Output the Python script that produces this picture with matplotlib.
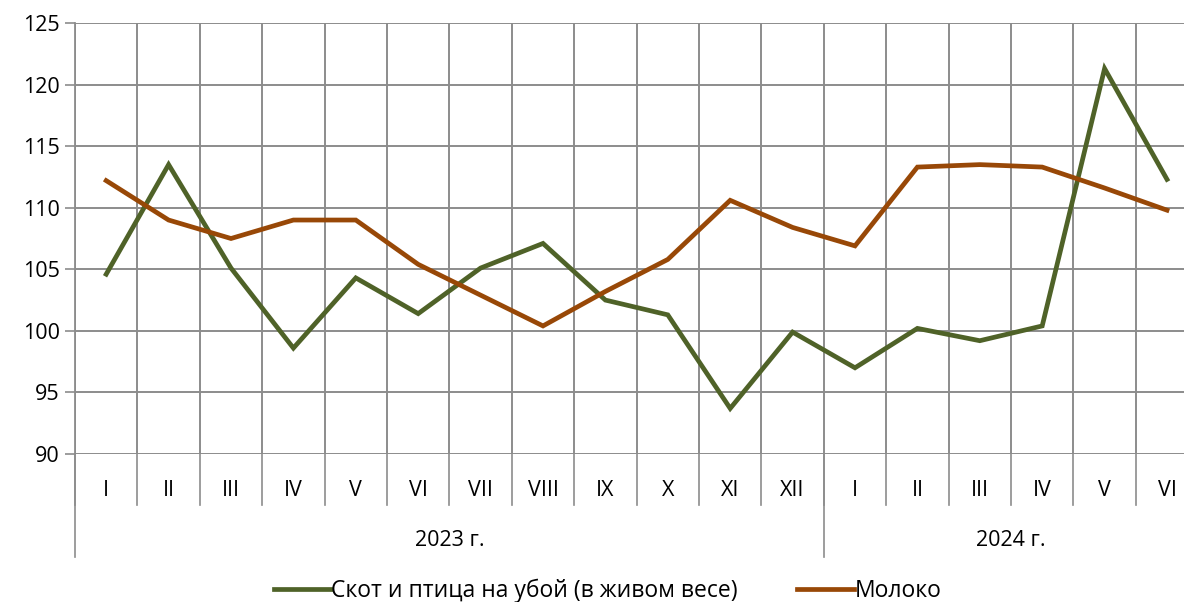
import matplotlib.pyplot as plt
import matplotlib.transforms as mtransforms

plt.rcParams['font.family'] = ['Open Sans', 'DejaVu Sans']

months = ['I', 'II', 'III', 'IV', 'V', 'VI', 'VII', 'VIII', 'IX', 'X', 'XI', 'XII',
          'I', 'II', 'III', 'IV', 'V', 'VI']
years = ['2023 г.', '2024 г.']
year_counts = [12, 6]

livestock = [104.6, 113.5, 105.1, 98.6, 104.3, 101.4, 105.1, 107.1, 102.5, 101.3,
             93.7, 99.9, 97.0, 100.2, 99.2, 100.4, 121.3, 112.3]
milk = [112.2, 109.0, 107.5, 109.0, 109.0, 105.4, 102.9, 100.4, 103.2, 105.8,
        110.6, 108.4, 106.9, 113.3, 113.5, 113.3, 111.6, 109.8]

grid_color = '#8c8c8c'
fs = 15.5

fig = plt.figure(figsize=(11.84, 6.02), dpi=100)
ax = fig.add_axes([75 / 1184, 1 - 454 / 602, 1 - 75 / 1184, 431 / 602])

x = list(range(len(months)))
ax.plot(x, livestock, color='#4f6228', linewidth=3.4, label='Скот и птица на убой (в живом весе)',
        solid_joinstyle='miter', zorder=3)
ax.plot(x, milk, color='#984807', linewidth=3.4, label='Молоко', solid_joinstyle='miter', zorder=3)

ax.set_ylim(90, 125)
ax.set_yticks(range(90, 126, 5))
ax.set_xlim(-0.5, -0.5 + 1109 / 62.4)
ax.set_xticks([])
ax.tick_params(axis='y', labelsize=fs, length=7, color=grid_color, width=1.2, pad=4)

for s in ['top', 'right', 'bottom']:
    ax.spines[s].set_visible(False)
ax.spines['left'].set_color(grid_color)
ax.spines['left'].set_linewidth(1.3)
ax.spines['left'].set_bounds(90, 125)

for v in range(90, 126, 5):
    ax.axhline(v, color=grid_color, linewidth=1.4, zorder=1)
for k in range(len(months) + 1):
    ax.axvline(k - 0.5, color=grid_color, linewidth=1.4, zorder=1)

trans = mtransforms.blended_transform_factory(ax.transData, ax.transAxes)
month_sep = -(505 - 454) / 431
year_sep = -(557 - 454) / 431

for k in range(len(months) + 1):
    ax.plot([k - 0.5, k - 0.5], [0, month_sep], color=grid_color, linewidth=1.2,
            transform=trans, clip_on=False)
for i, m in enumerate(months):
    ax.text(i, -(490 - 454) / 431, m, transform=trans, ha='center', va='center', fontsize=fs)

start = 0
for name, n in zip(years, year_counts):
    ax.plot([start - 0.5, start - 0.5], [0, year_sep], color=grid_color, linewidth=1.2,
            transform=trans, clip_on=False)
    ax.text(start + (n - 1) / 2, -(540 - 454) / 431, name, transform=trans,
            ha='center', va='center', fontsize=fs)
    start += n

fig.legend(loc='center', bbox_to_anchor=(0.513, 1 - 591 / 602), ncol=2, frameon=False,
           fontsize=16.5, handlelength=2.5, handletextpad=0.0, columnspacing=2.6)

fig.savefig('out.png', dpi=100)
